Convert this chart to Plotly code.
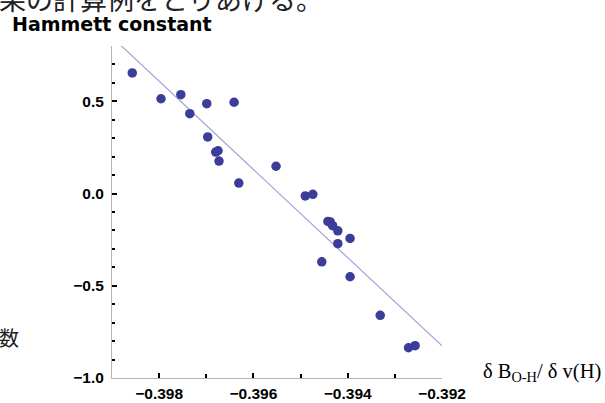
import plotly.graph_objects as go

# data
bond_deriv = [-0.39857, -0.39796, -0.39754, -0.39735, -0.39699, -0.39641, -0.39697,
              -0.39680, -0.39675, -0.39673, -0.39552, -0.39631, -0.39490, -0.39474,
              -0.39442, -0.39437, -0.39432, -0.39421, -0.39395, -0.39421, -0.39455,
              -0.39395, -0.39331, -0.39271, -0.39257]
hammett = [0.654, 0.514, 0.536, 0.433, 0.487, 0.495, 0.307,
           0.225, 0.232, 0.176, 0.148, 0.057, -0.013, -0.004,
           -0.151, -0.154, -0.174, -0.202, -0.243, -0.272, -0.370,
           -0.451, -0.660, -0.836, -0.825]
fit_x = [-0.39884, -0.392]
fit_y = [0.81, -0.826]

x_ticks = [-0.398, -0.396, -0.394, -0.392]
x_labels = ["−0.398", "−0.396", "−0.394", "−0.392"]
y_ticks = [-1.0, -0.5, 0.0, 0.5]
y_labels = ["−1.0", "−0.5", "0.0", "0.5"]

fig = go.Figure()
fig.add_trace(go.Scatter(x=fit_x, y=fit_y, mode="lines",
                         line=dict(color="#a3a3d9", width=1.2),
                         hoverinfo="skip", showlegend=False))
fig.add_trace(go.Scatter(x=bond_deriv, y=hammett, mode="markers",
                         marker=dict(color="#3c3c99", size=9.5),
                         showlegend=False))

tickfont = dict(family="Liberation Sans, Arial, sans-serif", size=15.5, color="black")
axis_common = dict(showgrid=False, zeroline=False, showline=True, automargin=False,
                   linecolor="#b4b4b4", linewidth=1, ticks="inside",
                   tickcolor="black", tickwidth=2, ticklen=5, tickfont=tickfont)

fig.update_xaxes(range=[-0.399, -0.392], tickvals=x_ticks,
                 ticktext=["<b>%s</b>" % t for t in x_labels], ticklabelstandoff=1,
                 minor=dict(dtick=0.001, tick0=-0.399, ticks="inside", ticklen=4,
                            tickwidth=2, tickcolor="black"),
                 **axis_common)
fig.update_yaxes(range=[-1.0, 0.8], tickvals=y_ticks,
                 ticktext=["<b>%s</b>" % t for t in y_labels], ticklabelstandoff=4,
                 minor=dict(dtick=0.1, tick0=-1.0, ticks="inside", ticklen=3,
                            tickwidth=2, tickcolor="black"),
                 **axis_common)

fig.update_layout(
    width=605, height=403,
    margin=dict(l=112, r=163, t=46, b=25, autoexpand=False),
    paper_bgcolor="white", plot_bgcolor="white",
    annotations=[
        dict(text="果の計算例をとりあげる。", xref="paper", yref="paper",
             x=-115/330, y=(378 - 20) / 332, xanchor="left", yanchor="bottom",
             showarrow=False,
             font=dict(family="Noto Sans CJK JP", size=27, color="#222222")),
        dict(text="<b>Hammett constant</b>", xref="paper", yref="paper",
             x=-102/330, y=(378 - 24) / 332, xanchor="left", yanchor="middle",
             showarrow=False,
             font=dict(family="DejaVu Sans, sans-serif", size=19, color="black")),
        dict(text="数", xref="paper", yref="paper",
             x=-115/330, y=(378 - 337) / 332, xanchor="left", yanchor="middle",
             showarrow=False,
             font=dict(family="Noto Sans CJK JP", size=20, color="#222222")),
        dict(text="δ B<sub>O-H</sub>/ δ v(H)", xref="paper", yref="paper",
             x=(481 - 112) / 330, y=(378 - 372) / 332, xanchor="left", yanchor="middle",
             showarrow=False,
             font=dict(family="Liberation Serif, Times New Roman, serif", size=20.5, color="black")),
    ],
)

page_fix = ("var s=document.createElement('style');"
            "s.textContent='html,body{margin:0;padding:0;overflow:hidden;height:403px;}';"
            "document.head.appendChild(s);")
fig.write_html("out.html", config={"displayModeBar": False}, post_script=page_fix)
